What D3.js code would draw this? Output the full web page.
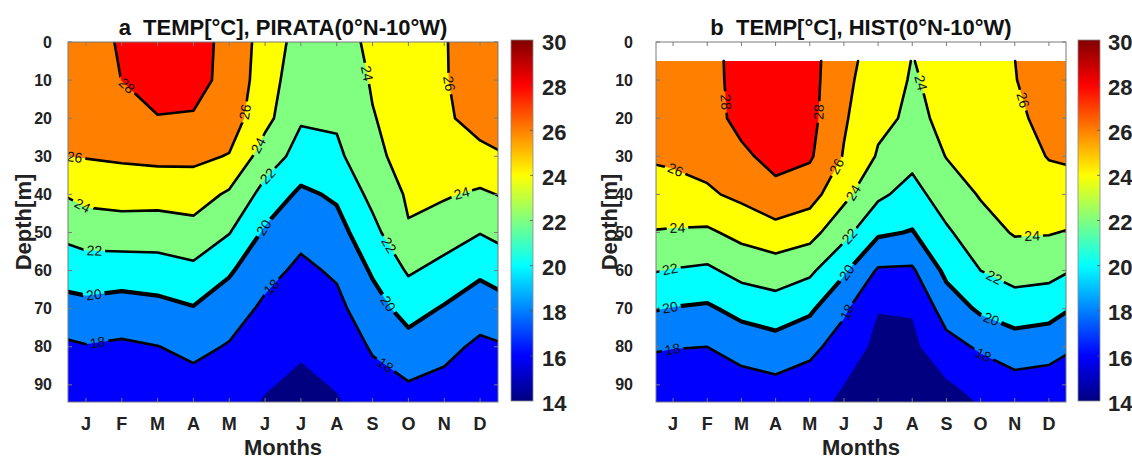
<!DOCTYPE html>
<html><head><meta charset="utf-8">
<script src="https://cdn.jsdelivr.net/npm/d3@7"></script>
<style>body{margin:0;background:#fff;} text{font-family:"Liberation Sans", Arial, sans-serif;}</style>
</head><body><svg id="chart" width="1132" height="461"></svg>
<script>
// ---------------- data ----------------
const monthLabels = ["J","F","M","A","M","J","J","A","S","O","N","D"];
// grid columns (month positions, incl. plot edges)
const gridMonths = [0.5,1,2,3,4,5,6,7,8,9,10,11,12,12.5];
const depthTicks = [0,10,20,30,40,50,60,70,80,90];
const colorbarTicks = [14,16,18,20,22,24,26,28,30];
const fillLevels = [14,16,18,20,22,24,26,28];
const lineLevels = [18,20,22,24,26,28];
const pirataDepths = [0,10,20,30,40,50,60,70,80,90,95];
const histDepths = [5,10,20,30,40,50,60,70,80,90,95];
// temperature profiles (°C), one per grid column, top -> bottom
const pirataTemp = [
  [27.2, 26.8, 26.4, 26.0, 24.15, 22.49, 20.9, 19.29, 17.7, 16.9, 16.6],   // edge
  [27.5, 27.03, 26.56, 26.09, 24.61, 22.82, 21.08, 19.44, 17.9, 16.95, 16.5], // J
  [28.13, 28.02, 27.18, 26.27, 24.8, 22.99, 21.0, 19.15, 17.7, 16.8, 16.4],  // F
  [29.0, 28.5, 27.95, 26.45, 24.75, 22.96, 21.13, 19.41, 17.96, 17.0, 16.5], // M
  [28.8, 28.7, 27.83, 26.42, 24.91, 23.28, 21.56, 19.88, 18.49, 17.35, 16.9],// A
  [27.4, 27.35, 27.0, 25.9, 23.71, 22.08, 20.24, 18.89, 17.85, 17.2, 16.9],  // M
  [25.2, 25.0, 24.6, 23.0, 21.3, 19.71, 18.57, 17.64, 16.91, 16.18, 15.8],   // J
  [23.2, 22.69, 22.18, 21.3, 19.61, 18.48, 17.62, 16.94, 16.29, 15.58, 15.23], // J
  [23.4, 22.86, 22.33, 21.52, 20.30, 19.25, 18.26, 17.5, 16.82, 16.14, 15.8],// A
  [24.3, 24.15, 23.92, 23.72, 22.56, 21.4, 20.23, 19.2, 18.2, 17.36, 17.0],  // S
  [25.2, 24.94, 24.68, 24.42, 24.25, 23.85, 22.22, 20.73, 19.27, 17.87, 17.3], // O
  [25.93, 25.93, 25.85, 25.03, 24.21, 22.89, 21.37, 19.83, 18.55, 17.49, 17.0], // N
  [26.6, 26.5, 26.35, 25.75, 23.65, 22.06, 20.37, 18.88, 17.61, 16.9, 16.6], // D
  [26.8, 26.6, 26.5, 25.9, 24.05, 22.47, 20.81, 19.2, 17.8, 16.9, 16.6]      // edge
];
const histTemp = [
  [27.0, 26.84, 26.51, 26.18, 25.36, 23.89, 22.07, 20.08, 18.24, 16.6, 16.1], // edge
  [27.3, 27.09, 26.68, 26.27, 25.44, 23.81, 21.9, 19.91, 18.09, 16.62, 15.9], // J
  [27.6, 27.55, 27.45, 26.67, 25.72, 23.69, 21.66, 19.71, 18.0, 16.62, 15.93],// F
  [28.43, 28.45, 28.4, 27.74, 26.44, 24.57, 22.64, 20.63, 18.76, 17.26, 16.6],// M
  [29.2, 29.0, 28.82, 28.43, 27.6, 25.18, 23.04, 21.09, 19.2, 17.55, 16.9],   // A
  [28.7, 28.68, 28.6, 28.25, 26.78, 24.69, 22.37, 20.34, 18.53, 17.09, 16.5], // M
  [26.6, 26.48, 26.23, 25.87, 24.53, 22.6, 20.3, 18.33, 17.09, 16.0, 15.7],   // J
  [25.15, 24.91, 24.42, 23.82, 22.38, 20.31, 17.78, 16.07, 15.52, 15.0, 14.8],// J
  [23.95, 23.85, 23.7, 22.6, 21.27, 19.89, 17.73, 16.14, 15.6, 15.1, 14.9],   // A
  [24.6, 24.49, 24.28, 24.06, 23.03, 21.7, 20.48, 18.92, 17.28, 15.78, 15.5], // S
  [25.4, 25.22, 24.86, 24.5, 24.14, 23.25, 22.0, 20.33, 18.28, 16.69, 16.05], // O
  [25.99, 25.95, 25.7, 25.2, 24.7, 24.15, 22.76, 21.04, 19.04, 17.33, 16.6],  // N
  [26.8, 26.68, 26.45, 26.09, 25.22, 24.11, 22.6, 20.78, 18.78, 17.15, 16.45],// D
  [27.0, 26.84, 26.51, 26.18, 25.37, 23.91, 22.16, 20.18, 18.31, 16.84, 16.2] // edge
];
// contour label anchors: [level, month, depth]
const pirataLabels = [
  [28,2.0,12.9],[26,0.68,30.4],[26,5.47,18.4],[24,5.78,27],[22,6.08,35.2],[20,5.93,48.5],
  [24,0.93,42.5],[24,8.76,8.4],[26,11.08,11],[24,11.48,39.5],[22,1.23,56.5],[20,1.23,67],
  [18,1.33,79.1],[18,6.03,63],[22,9.36,53.9],[20,9.36,69.1],[18,9.36,84.8]
];
const histLabels = [
  [28,2.48,15.8],[28,5.34,18.4],[26,0.91,36.9],[26,5.87,33],[24,1.13,49.4],[24,6.35,40],
  [24,8.14,11],[26,11.04,15.8],[24,11.52,53],[22,0.91,59.6],[22,6.25,51.7],[22,10.35,62.6],
  [20,0.91,69.6],[20,6.14,60.9],[20,10.3,73],[18,0.97,80],[18,6.09,70.9],[18,10.08,82.2]
];

// ---------------- drawing ----------------
const W = 1132, H = 461;
const svg = d3.select("#chart");
const defs = svg.append("defs");
const jetStops = [14,16,20,24,28,30];
const jet = d3.scaleLinear().domain(jetStops)
  .range(["#000080","#0000ff","#00ffff","#ffff00","#ff0000","#800000"]);
const grad = defs.append("linearGradient").attr("id","jetGrad")
  .attr("x1",0).attr("y1",1).attr("x2",0).attr("y2",0);
jetStops.forEach(v => grad.append("stop").attr("offset",(v-14)/16).attr("stop-color",jet(v)));

const TXT = "#222";
const clampv = (v,lo,hi)=>Math.max(lo,Math.min(hi,v));

function drawPanel(p) {
  const g = svg.append("g");
  const x = d3.scaleLinear().domain([0.5,12.5]).range([p.x0,p.x1]);
  const y = d3.scaleLinear().domain([0,94.5]).range([p.y0,p.y1]);
  const n = gridMonths.length, m = p.depths.length;
  const values = [];
  for (let j=0;j<m;j++) for (let i=0;i<n;i++) values.push(p.temp[i][j]);
  const colToMonth = d3.scaleLinear().domain(d3.range(n)).range(gridMonths);
  const rowToDepth = d3.scaleLinear().domain(d3.range(m)).range(p.depths);
  const px = gx => x(colToMonth(clampv(gx-0.5,0,n-1)));
  const py = gy => y(rowToDepth(clampv(gy-0.5,0,m-1)));
  const path = d3.geoPath(d3.geoTransform({point(a,b){this.stream.point(px(a),py(b));}}));

  const clipId = "clip"+p.id;
  defs.append("clipPath").attr("id",clipId).append("rect")
    .attr("x",p.x0).attr("y",p.y0).attr("width",p.x1-p.x0).attr("height",p.y1-p.y0);
  const plot = g.append("g").attr("clip-path",`url(#${clipId})`);

  const fills = d3.contours().size([n,m]).thresholds(fillLevels)(values);
  plot.selectAll("path.band").data(fills).join("path").attr("class","band")
    .attr("d",path).attr("fill",d=>jet(d.value));

  // isolines
  const edge = (a,b) => (a[0]<=0.5&&b[0]<=0.5)||(a[0]>=n-0.5&&b[0]>=n-0.5)||
                        (a[1]<=0.5&&b[1]<=0.5)||(a[1]>=m-0.5&&b[1]>=m-0.5);
  const lineData = d3.contours().size([n,m]).thresholds(lineLevels)(values).map(c => {
    const lines = [];
    c.coordinates.forEach(poly => poly.forEach(ring => {
      const L = ring.length-1;
      let start = -1;
      for (let k=0;k<L;k++) if (edge(ring[k],ring[k+1])) { start=k; break; }
      if (start<0) { lines.push(ring.map(q=>[px(q[0]),py(q[1])])); return; }
      let cur = null;
      for (let s=1;s<=L;s++) {
        const k = (start+s)%L;
        const a = ring[k], b = ring[k+1];
        if (edge(a,b)) { if (cur) { lines.push(cur); cur=null; } continue; }
        if (!cur) cur = [[px(a[0]),py(a[1])]];
        cur.push([px(b[0]),py(b[1])]);
      }
      if (cur) lines.push(cur);
    }));
    return {level:c.value, lines};
  });

  const maskId = "mask"+p.id;
  const mask = defs.append("mask").attr("id",maskId).attr("maskUnits","userSpaceOnUse")
    .attr("x",0).attr("y",0).attr("width",W).attr("height",H);
  mask.append("rect").attr("width",W).attr("height",H).attr("fill","white");
  const linesG = plot.append("g").attr("mask",`url(#${maskId})`);
  const lineGen = d3.line();
  lineData.forEach(ld => ld.lines.forEach(pl => {
    linesG.append("path").attr("d",lineGen(pl)).attr("fill","none").attr("stroke","#000")
      .attr("stroke-width", ld.level===20?4.2:2.6)
      .attr("stroke-linejoin","round").attr("stroke-linecap","round");
  }));

  const labelG = plot.append("g");
  p.labels.forEach(([lev,mo,dep]) => {
    const tx = x(mo), ty = y(dep);
    const ld = lineData.find(d=>d.level===lev);
    if (!ld) return;
    let best=null, bd=Infinity;
    ld.lines.forEach(pl => {
      for (let k=0;k<pl.length-1;k++) {
        const [ax,ay]=pl[k],[bx,by]=pl[k+1];
        const dx=bx-ax, dy=by-ay, len2=dx*dx+dy*dy;
        if (len2<1e-6) continue;
        const t = clampv(((tx-ax)*dx+(ty-ay)*dy)/len2,0,1);
        const qx=ax+t*dx, qy=ay+t*dy, dd=(qx-tx)**2+(qy-ty)**2;
        if (dd<bd) { bd=dd; best={x:qx,y:qy,ang:Math.atan2(dy,dx)*180/Math.PI}; }
      }
    });
    if (!best) return;
    let a = best.ang; if (a>90) a-=180; if (a<=-90) a+=180;
    const tr = `translate(${best.x},${best.y}) rotate(${a})`;
    const t = labelG.append("text").attr("transform",tr).attr("text-anchor","middle")
      .attr("dy","0.35em").attr("font-size",14).attr("fill","#111").text(lev);
    const w = t.node().getComputedTextLength();
    mask.append("rect").attr("x",-w/2-3).attr("y",-6).attr("width",w+6).attr("height",12)
      .attr("transform",tr).attr("fill","black");
  });

  // box & ticks
  const axG = g.append("g").attr("stroke","#7a7a7a").attr("stroke-width",1);
  axG.append("rect").attr("x",p.x0).attr("y",p.y0).attr("width",p.x1-p.x0).attr("height",p.y1-p.y0).attr("fill","none");
  const tk = 4;
  depthTicks.forEach(d => {
    axG.append("line").attr("x1",p.x0).attr("x2",p.x0+tk).attr("y1",y(d)).attr("y2",y(d));
    axG.append("line").attr("x1",p.x1-tk).attr("x2",p.x1).attr("y1",y(d)).attr("y2",y(d));
  });
  monthLabels.forEach((lab,i) => {
    const xm = x(i+1);
    axG.append("line").attr("x1",xm).attr("x2",xm).attr("y1",p.y0).attr("y2",p.y0+tk);
    axG.append("line").attr("x1",xm).attr("x2",xm).attr("y1",p.y1-tk).attr("y2",p.y1);
    g.append("text").attr("x",xm).attr("y",430).attr("text-anchor","middle")
      .attr("font-size",18).attr("font-weight","bold").attr("fill",TXT).text(lab);
  });
  depthTicks.forEach(d => {
    g.append("text").attr("x",p.tickLabelX).attr("y",y(d)).attr("dy","0.35em").attr("text-anchor","end")
      .attr("font-size",16).attr("font-weight","bold").attr("fill",TXT).text(d);
  });
  g.append("text").attr("x",(p.x0+p.x1)/2).attr("y",455).attr("text-anchor","middle")
    .attr("font-size",22).attr("font-weight","bold").attr("fill",TXT).text("Months");
  g.append("text").attr("transform",`translate(${p.ylabelX},${(p.y0+p.y1)/2}) rotate(-90)`)
    .attr("text-anchor","middle").attr("dy","0.35em")
    .attr("font-size",22).attr("font-weight","bold").attr("fill",TXT).text("Depth[m]");
  g.append("text").attr("x",(p.x0+p.x1)/2).attr("y",35).attr("text-anchor","middle")
    .attr("font-size",22).attr("font-weight","bold").attr("fill","#111").text(p.title);

  // colorbar
  const cb = d3.scaleLinear().domain([14,30]).range([401,40]);
  g.append("rect").attr("x",p.cbX).attr("y",cb(30)).attr("width",22).attr("height",cb(14)-cb(30))
    .attr("fill","url(#jetGrad)").attr("stroke","#8a8a8a").attr("stroke-width",0.8);
  colorbarTicks.forEach(v => {
    if (v>14 && v<30) g.append("line").attr("x1",p.cbX+19).attr("x2",p.cbX+22)
      .attr("y1",cb(v)).attr("y2",cb(v)).attr("stroke","#555").attr("stroke-width",0.8);
    g.append("text").attr("x",p.cbLabelX).attr("y",cb(v)+2).attr("dy","0.35em")
      .attr("font-size",22).attr("font-weight","bold").attr("fill",TXT).text(v);
  });
}

drawPanel({id:"a", x0:68, x1:498, y0:42, y1:402, depths:pirataDepths, temp:pirataTemp,
  labels:pirataLabels, tickLabelX:52, ylabelX:23, cbX:511, cbLabelX:542,
  title:"a\u00a0\u00a0TEMP[°C], PIRATA(0°N-10°W)"});
drawPanel({id:"b", x0:656, x1:1066, y0:42, y1:402, depths:histDepths, temp:histTemp,
  labels:histLabels, tickLabelX:633, ylabelX:609, cbX:1078, cbLabelX:1108,
  title:"b\u00a0\u00a0TEMP[°C], HIST(0°N-10°W)"});
</script>
</body></html>
